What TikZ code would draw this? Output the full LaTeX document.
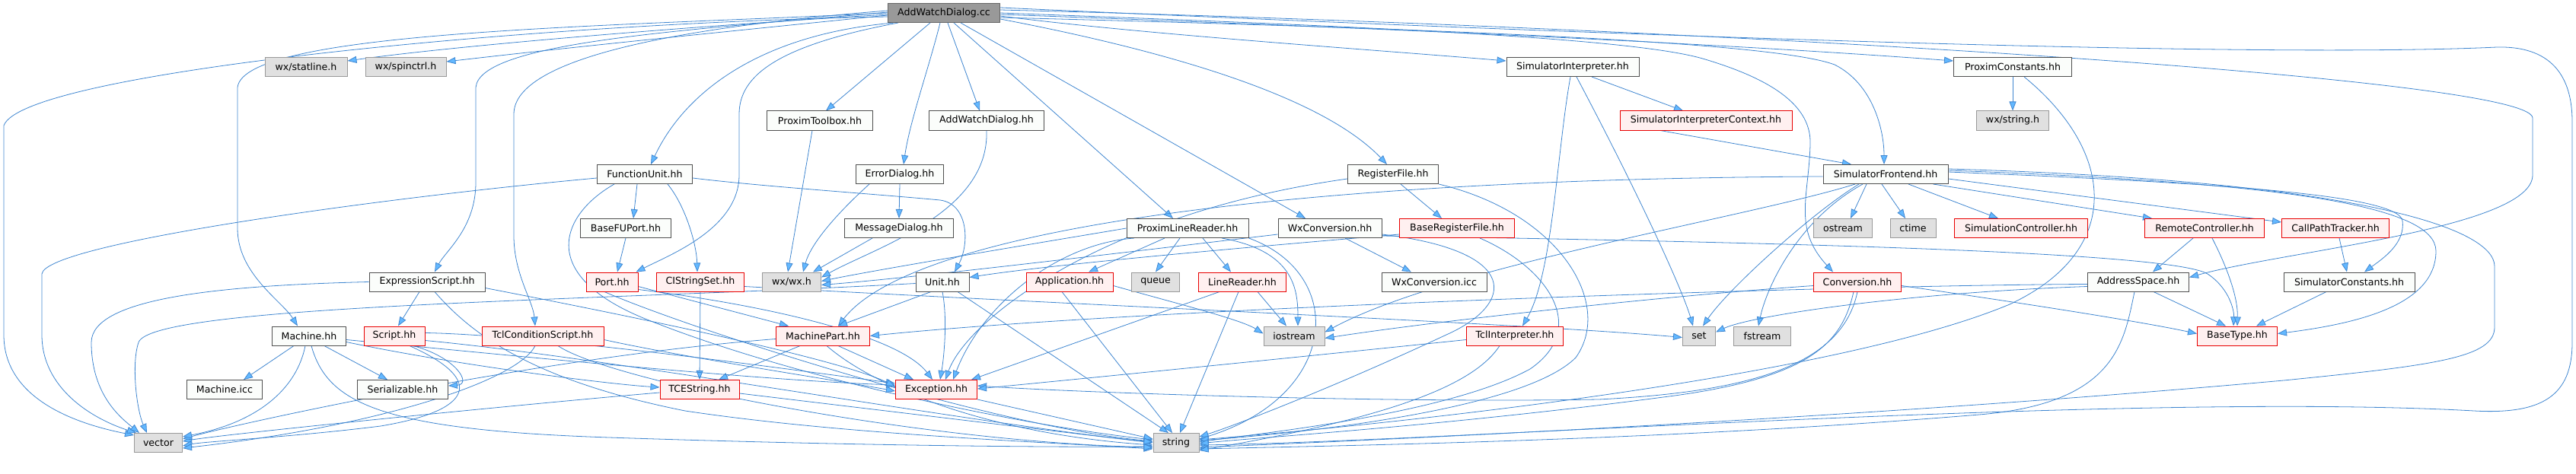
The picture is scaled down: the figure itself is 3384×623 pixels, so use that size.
\documentclass[tikz,border=0pt]{standalone}
\usepackage{fontspec}
\newfontfamily\dvs{DejaVu Sans}
\usetikzlibrary{arrows.meta}
\definecolor{edgec}{HTML}{3F86D0}
\definecolor{tipc}{HTML}{63B8FF}
\definecolor{nbord}{HTML}{505050}
\definecolor{nfill}{HTML}{FBFDFB}
\definecolor{gfill}{HTML}{E0E0E0}
\definecolor{gbord}{HTML}{999999}
\definecolor{rbord}{HTML}{E80000}
\definecolor{rfill}{HTML}{FFF0F0}
\definecolor{rootfill}{HTML}{999999}
\definecolor{rootbord}{HTML}{666666}
\pgfdeclarelayer{bg}
\pgfsetlayers{bg,main}
\tikzset{
  box/.style={rectangle, minimum height=25pt, inner sep=0pt, line width=1pt,
    font=\dvs\fontsize{12.6pt}{15pt}\selectfont},
  nb/.style={box, draw=nbord, fill=nfill},
  nr/.style={box, draw=rbord, fill=rfill},
  ng/.style={box, draw=gbord, fill=gfill},
  nroot/.style={box, draw=rootbord, fill=rootfill},
  lnk/.style={draw=edgec, line width=0.8pt, -{Triangle[length=12pt,width=9pt,fill=tipc]}}
}
\begin{document}
\begin{tikzpicture}[x=1pt,y=-1pt]
\useasboundingbox (0,0) rectangle (3384,623);
% row 1
\node[nroot, minimum width=147pt] (root) at (1240,17) {AddWatchDialog.cc};
% row 2
\node[ng, minimum width=108pt] (statline) at (402,88) {wx/statline.h};
\node[ng, minimum width=106pt] (spinctrl) at (533,88) {wx/spinctrl.h};
\node[nb, minimum width=174pt] (siminterp) at (2066,88) {SimulatorInterpreter.hh};
\node[nb, minimum width=155pt] (proxconst) at (2644,88) {ProximConstants.hh};
% row 3
\node[nb, minimum width=139pt] (toolbox) at (1077,158.5) {ProximToolbox.hh};
\node[nb, minimum width=151pt] (awdhh) at (1296,158.5) {AddWatchDialog.hh};
\node[nr, minimum width=226pt] (sicontext) at (2241,158.5) {SimulatorInterpreterContext.hh};
\node[ng, minimum width=95pt] (wxstring) at (2644,158.5) {wx/string.h};
% row 4
\node[nb, minimum width=125pt] (fu) at (847,229) {FunctionUnit.hh};
\node[nb, minimum width=115pt] (errdlg) at (1182,229) {ErrorDialog.hh};
\node[nb, minimum width=119pt] (regfile) at (1830,229) {RegisterFile.hh};
\node[nb, minimum width=164pt] (simfront) at (2477,229) {SimulatorFrontend.hh};
% row 5
\node[nb, minimum width=119pt] (basefuport) at (822,300) {BaseFUPort.hh};
\node[nb, minimum width=143pt] (msgdlg) at (1181,300) {MessageDialog.hh};
\node[nb, minimum width=160pt] (plr) at (1560,300) {ProximLineReader.hh};
\node[nb, minimum width=136pt] (wxconv) at (1747,300) {WxConversion.hh};
\node[nr, minimum width=151pt] (baseregfile) at (1914,300) {BaseRegisterFile.hh};
\node[ng, minimum width=77pt] (ostream) at (2421,300) {ostream};
\node[ng, minimum width=60pt] (ctime) at (2513,300) {ctime};
\node[nr, minimum width=175pt] (simctrl) at (2655,300) {SimulationController.hh};
\node[nr, minimum width=157pt] (remctrl) at (2896,300) {RemoteController.hh};
\node[nr, minimum width=141pt] (callpath) at (3068,300) {CallPathTracker.hh};
% row 6
\node[nb, minimum width=152pt] (exprscript) at (561,370.5) {ExpressionScript.hh};
\node[nr, minimum width=68pt] (port) at (804,370.5) {Port.hh};
\node[nr, minimum width=115pt] (cistring) at (920,370.5) {CIStringSet.hh};
\node[ng, minimum width=77pt] (wxwx) at (1040,370.5) {wx/wx.h};
\node[nb, minimum width=70pt] (unit) at (1238,370.5) {Unit.hh};
\node[nr, minimum width=114pt] (app) at (1405,370.5) {Application.hh};
\node[ng, minimum width=63pt] (queue) at (1518,370.5) {queue};
\node[nr, minimum width=115pt] (linereader) at (1632,370.5) {LineReader.hh};
\node[nb, minimum width=138pt] (wxconvicc) at (1884,370.5) {WxConversion.icc};
\node[nr, minimum width=115pt] (conversion) at (2440,370.5) {Conversion.hh};
\node[nb, minimum width=133pt] (addrspace) at (2809,370.5) {AddressSpace.hh};
\node[nb, minimum width=172pt] (simconst) at (3086,370.5) {SimulatorConstants.hh};
% row 7
\node[nb, minimum width=97pt] (machine) at (406,441.5) {Machine.hh};
\node[nr, minimum width=80pt] (script) at (518,441.5) {Script.hh};
\node[nr, minimum width=160pt] (tclcond) at (713,441.5) {TclConditionScript.hh};
\node[nr, minimum width=123pt] (machinepart) at (1081,441.5) {MachinePart.hh};
\node[ng, minimum width=80pt] (iostream) at (1700,441.5) {iostream};
\node[nr, minimum width=127pt] (tclinterp) at (1990,441.5) {TclInterpreter.hh};
\node[ng, minimum width=43pt] (set) at (2232,441.5) {set};
\node[ng, minimum width=75pt] (fstream) at (2315,441.5) {fstream};
\node[nr, minimum width=105pt] (basetype) at (2939,441.5) {BaseType.hh};
% row 8
\node[nb, minimum width=99pt] (machineicc) at (295,512) {Machine.icc};
\node[nb, minimum width=119pt] (serial) at (529,512) {Serializable.hh};
\node[nr, minimum width=104pt] (tcestring) at (919,512) {TCEString.hh};
\node[nr, minimum width=107pt] (exception) at (1230,512) {Exception.hh};
% row 9
\node[ng, minimum width=63pt] (vector) at (208,582) {vector};
\node[ng, minimum width=60pt] (string) at (1545,582) {string};

\begin{pgfonlayer}{bg}
% ---- root edges
\draw[lnk] ([yshift=-5pt]root.west) .. controls (700,30) and (30,95) .. (5,165) -- (5,440) .. controls (5,520) and (90,555) .. ([yshift=-3pt]vector.north west);
\draw[lnk] ([yshift=-2pt]root.west) .. controls (900,35) and (600,60) .. ([yshift=8pt]statline.east);
\draw[lnk] ([yshift=-3pt]root.west) .. controls (950,42) and (750,62) .. ([yshift=7pt]spinctrl.east);
\draw[lnk] ([yshift=0pt]root.west) .. controls (800,35) and (320,40) .. (312,115) -- (312,300) .. controls (312,360) and (370,395) .. ([xshift=-15pt]machine.north);
\draw[lnk] ([yshift=1pt]root.west) .. controls (900,40) and (630,55) .. (625,115) -- (625,240) .. controls (625,300) and (585,330) .. ([xshift=10pt]exprscript.north);
\draw[lnk] ([yshift=3pt]root.west) .. controls (900,35) and (675,75) .. (675,150) -- (675,310) .. controls (675,360) and (700,395) .. ([xshift=-10pt]tclcond.north);
\draw[lnk] ([xshift=8pt]root.south west) .. controls (1000,45) and (900,120) .. ([xshift=8pt]fu.north);
\draw[lnk] ([xshift=14pt]root.south west) .. controls (1020,60) and (971,100) .. (971,150) -- (971,230) .. controls (971,300) and (880,335) .. ([xshift=-3pt]port.north east);
\draw[lnk] ([xshift=-18pt]root.south) -- ([xshift=8pt]toolbox.north);
\draw[lnk] ([xshift=-5pt]root.south) .. controls (1220,90) and (1195,160) .. ([xshift=5pt]errdlg.north);
\draw[lnk] ([xshift=5pt]root.south) -- ([xshift=-9pt]awdhh.north);
\draw[lnk] ([xshift=13pt]root.south) -- ([xshift=-19pt]plr.north);
\draw[lnk] ([xshift=22pt]root.south) -- ([xshift=-32pt]wxconv.north);
\draw[lnk] ([yshift=-8pt]root.east) .. controls (1550,70) and (1740,130) .. ([xshift=-8pt]regfile.north);
\draw[lnk] ([yshift=-4pt]root.east) .. controls (1500,45) and (1800,65) .. ([yshift=8pt]siminterp.west);
\draw[lnk] ([yshift=-2pt]root.east) .. controls (1900,40) and (2300,60) .. ([yshift=8pt]proxconst.west);
\draw[lnk] ([yshift=-6pt]root.east) .. controls (1900,38) and (2330,55) .. (2410,85) .. controls (2460,110) and (2475,170) .. ([xshift=-2pt]simfront.north);
\draw[lnk] ([yshift=0pt]root.east) .. controls (1800,35) and (2150,50) .. (2240,78) .. controls (2330,105) and (2380,140) .. (2378,190) .. controls (2376,260) and (2355,300) .. ([xshift=-32pt]conversion.north);
\draw[lnk] ([yshift=4pt]root.east) .. controls (2200,35) and (3325,100) .. (3327,155) -- (3327,230) .. controls (3327,300) and (3000,330) .. ([yshift=6pt]addrspace.east);
\draw[lnk] ([yshift=7pt]root.east) .. controls (2300,55) and (3000,75) .. (3280,62) .. controls (3360,60) and (3379,110) .. (3379,160) -- (3379,450) .. controls (3379,520) and (3340,545) .. (3250,540) .. controls (2800,515) and (1900,580) .. ([yshift=-3pt]string.east);
% ---- dialogs / wx
\draw[lnk] ([xshift=-10pt]toolbox.south) -- ([xshift=-5pt]wxwx.north);
\draw[lnk] (awdhh.south) .. controls (1300,280) and (1150,325) .. ([yshift=6pt]wxwx.east);
\draw[lnk] ([xshift=-40pt]errdlg.south) .. controls (1100,280) and (1065,320) .. ([xshift=15pt]wxwx.north);
\draw[lnk] (errdlg.south) -- (msgdlg.north);
\draw[lnk] ([xshift=-35pt]msgdlg.south) -- ([xshift=28pt]wxwx.north);
\draw[lnk] (plr.west) .. controls (1300,330) and (1150,355) .. ([yshift=1pt]wxwx.east);
\draw[lnk] ([yshift=-8pt]wxconv.west) .. controls (1450,335) and (1200,365) .. ([yshift=-4pt]wxwx.east);
% ---- ProximLineReader
\draw[lnk] ([xshift=-10pt]plr.south) -- (queue.north);
\draw[lnk] ([xshift=-30pt]plr.south) -- ([xshift=25pt]app.north);
\draw[lnk] ([xshift=20pt]plr.south) -- ([xshift=-15pt]linereader.north);
\draw[lnk] ([xshift=45pt]plr.south) .. controls (1700,330) and (1705,380) .. ([xshift=5pt]iostream.north);
\draw[lnk] (plr.south east) .. controls (1770,360) and (1760,520) .. ([yshift=5pt]string.east);
\draw[lnk] ([xshift=-70pt]plr.south) .. controls (1390,320) and (1290,400) .. ([xshift=22pt]exception.north);
% ---- WxConversion
\draw[lnk] ([xshift=20pt]wxconv.south) -- ([xshift=-30pt]wxconvicc.north);
\draw[lnk] ([yshift=-8pt]wxconv.east) .. controls (2000,330) and (1990,400) .. (1900,440) .. controls (1750,510) and (1620,560) .. ([yshift=8pt]string.east);
\draw[lnk] ([yshift=-10pt]wxconv.east) .. controls (2300,318) and (2850,330) .. (2900,360) .. controls (2930,380) and (2935,410) .. ([xshift=-5pt]basetype.north);
% ---- RegisterFile
\draw[lnk] ([xshift=10pt]regfile.south) -- ([xshift=-20pt]baseregfile.north);
\draw[lnk] (regfile.south east) .. controls (2050,280) and (2120,400) .. (2070,470) .. controls (2000,540) and (1700,570) .. ([yshift=3pt]string.east);
\draw[lnk] ([yshift=-6pt]regfile.west) .. controls (1450,280) and (1270,420) .. ([xshift=12pt]exception.north);
\draw[lnk] ([yshift=-8pt]baseregfile.west) .. controls (1700,320) and (1400,345) .. ([yshift=6pt]unit.east);
\draw[lnk] ([xshift=30pt]baseregfile.south) .. controls (2030,350) and (2090,430) .. (2010,485) .. controls (1900,545) and (1650,570) .. ([yshift=1pt]string.east);
% ---- SimulatorInterpreter
\draw[lnk] ([xshift=25pt]siminterp.south) -- ([xshift=-30pt]sicontext.north);
\draw[lnk] ([xshift=5pt]siminterp.south) .. controls (2150,250) and (2210,380) .. ([xshift=-8pt]set.north);
\draw[lnk] ([xshift=-3pt]siminterp.south) .. controls (2045,200) and (2040,360) .. ([xshift=10pt]tclinterp.north);
\draw[lnk] ([xshift=-60pt]sicontext.south) -- ([xshift=-45pt]simfront.north);
% ---- ProximConstants
\draw[lnk] (proxconst.south) -- (wxstring.north);
\draw[lnk] ([xshift=15pt]proxconst.south) .. controls (2780,200) and (2790,330) .. (2640,400) .. controls (2400,500) and (1800,560) .. ([yshift=4pt]string.east);
% ---- SimulatorFrontend
\draw[lnk] ([xshift=-25pt]simfront.south) -- ([xshift=10pt]ostream.north);
\draw[lnk] ([xshift=-5pt]simfront.south) -- ([xshift=-10pt]ctime.north);
\draw[lnk] ([xshift=30pt]simfront.south) -- ([xshift=-30pt]simctrl.north);
\draw[lnk] ([xshift=-20pt]simfront.south east) -- ([xshift=10pt]remctrl.north west);
\draw[lnk] ([yshift=-6pt]simfront.east) -- ([yshift=8pt]callpath.west);
\draw[lnk] ([yshift=3pt]simfront.east) .. controls (2900,240) and (3150,255) .. (3156,290) .. controls (3160,320) and (3130,340) .. ([xshift=20pt]simconst.north);
\draw[lnk] ([yshift=5pt]simfront.east) .. controls (3000,240) and (3200,270) .. (3200,330) .. controls (3200,400) and (3100,425) .. ([yshift=3pt]basetype.east);
\draw[lnk] ([yshift=7pt]simfront.east) .. controls (3100,238) and (3277,300) .. (3277,350) -- (3277,430) .. controls (3277,470) and (3200,480) .. (3000,500) .. controls (2500,545) and (1900,575) .. ([yshift=-6pt]string.east);
\draw[lnk] ([xshift=-35pt]simfront.south) .. controls (2380,280) and (2270,380) .. ([xshift=5pt]set.north);
\draw[lnk] ([xshift=-30pt]simfront.south) .. controls (2360,290) and (2320,380) .. ([xshift=-5pt]fstream.north);
\draw[lnk] ([xshift=-40pt]simfront.south) .. controls (2300,285) and (1900,350) .. ([yshift=5pt]iostream.east);
\draw[lnk] ([yshift=-3pt]simfront.west) .. controls (1700,235) and (1200,300) .. ([xshift=20pt]machinepart.north);
% ---- right cluster
\draw[lnk] ([xshift=-15pt]remctrl.south) -- ([xshift=19pt]addrspace.north);
\draw[lnk] ([xshift=10pt]remctrl.south) .. controls (2925,350) and (2940,390) .. (basetype.north);
\draw[lnk] ([xshift=5pt]callpath.south) -- ([xshift=-3pt]simconst.north);
\draw[lnk] ([xshift=-30pt]simconst.south) -- ([xshift=25pt]basetype.north);
\draw[lnk] ([xshift=20pt]addrspace.south) -- ([xshift=-15pt]basetype.north);
\draw[lnk] ([xshift=-5pt]addrspace.south) .. controls (2790,450) and (2780,530) .. (2600,545) .. controls (2200,578) and (1800,585) .. ([yshift=-8pt]string.east);
\draw[lnk] ([yshift=-3pt]addrspace.west) .. controls (2400,375) and (1500,405) .. (machinepart.east);
\draw[lnk] ([yshift=-6pt]addrspace.west) .. controls (2500,385) and (2300,415) .. ([yshift=5pt]set.east);
% ---- Conversion
\draw[lnk] ([xshift=-5pt]conversion.south) .. controls (2420,450) and (2380,495) .. (2200,520) .. controls (1900,560) and (1650,575) .. ([yshift=-1pt]string.east);
\draw[lnk] (conversion.south) .. controls (2420,480) and (2300,515) .. (2100,525) .. controls (1800,530) and (1400,515) .. ([yshift=5pt]exception.east);
\draw[lnk] ([yshift=-5pt]conversion.west) .. controls (2200,388) and (1900,420) .. ([yshift=-3pt]iostream.east);
\draw[lnk] ([yshift=-5pt]conversion.east) .. controls (2600,390) and (2800,420) .. ([yshift=3pt]basetype.west);
% ---- TclInterpreter
\draw[lnk] ([xshift=-20pt]tclinterp.south) .. controls (1940,500) and (1850,545) .. ([yshift=-10pt]string.east);
\draw[lnk] ([yshift=-5pt]tclinterp.west) .. controls (1700,470) and (1400,500) .. ([yshift=1pt]exception.east);
% ---- machine parts
\draw[lnk] (cistring.south) -- (tcestring.north);
\draw[lnk] ([yshift=-6pt]cistring.east) .. controls (1400,400) and (2000,425) .. ([yshift=-2pt]set.west);
\draw[lnk] ([xshift=-10pt]fu.south) -- ([xshift=10pt]basefuport.north);
\draw[lnk] ([xshift=30pt]fu.south) .. controls (900,270) and (915,320) .. ([xshift=-4pt]cistring.north);
\draw[lnk] ([yshift=-5pt]fu.east) .. controls (1000,245) and (1150,255) .. (1235,263) .. controls (1272,268) and (1274,320) .. ([xshift=16pt]unit.north);
\draw[lnk] ([yshift=-5pt]fu.west) .. controls (500,260) and (60,320) .. (55,360) -- (55,440) .. controls (55,510) and (120,550) .. ([xshift=3pt]vector.north west);
\draw[lnk] ([xshift=-40pt]fu.south) .. controls (740,280) and (700,360) .. (850,420) .. controls (1050,500) and (1350,560) .. ([yshift=4pt]string.west);
\draw[lnk] (basefuport.south) -- ([xshift=7pt]port.north);
\draw[lnk] ([yshift=-6pt]port.east) -- ([xshift=-45pt]machinepart.north);
\draw[lnk] ([xshift=-10pt]port.south) .. controls (900,430) and (1300,560) .. ([yshift=2pt]string.west);
\draw[lnk] ([yshift=-10pt]port.east) .. controls (1000,400) and (1180,440) .. ([xshift=-5pt]exception.north);
\draw[lnk] ([xshift=-15pt]unit.south) -- ([xshift=20pt]machinepart.north);
\draw[lnk] (unit.south) .. controls (1245,420) and (1240,470) .. ([xshift=5pt]exception.north);
\draw[lnk] ([xshift=20pt]unit.south) -- ([xshift=-10pt]string.north);
\draw[lnk] ([yshift=-2pt]unit.west) .. controls (800,395) and (200,400) .. (182,450) .. controls (172,480) and (180,540) .. ([xshift=-15pt]vector.north);
\draw[lnk] ([yshift=-5pt]app.east) .. controls (1550,400) and (1630,420) .. ([yshift=3pt]iostream.west);
\draw[lnk] ([xshift=-10pt]app.south) -- ([xshift=-5pt]string.north);
\draw[lnk] ([xshift=-5pt]linereader.south) -- ([xshift=5pt]string.north);
\draw[lnk] ([xshift=20pt]linereader.south) -- ([xshift=-10pt]iostream.north);
\draw[lnk] ([xshift=-30pt]linereader.south) -- ([xshift=-8pt]exception.north east);
\draw[lnk] (exception.south east) -- ([yshift=5pt]string.west);
\draw[lnk] ([yshift=-5pt]tcestring.east) -- ([yshift=0pt]string.west);
\draw[lnk] ([yshift=-4pt]tcestring.west) .. controls (700,530) and (300,570) .. ([yshift=2pt]vector.east);
\draw[lnk] ([xshift=-30pt]machinepart.south) -- ([xshift=25pt]tcestring.north);
\draw[lnk] ([xshift=20pt]machinepart.south) -- ([xshift=-30pt]exception.north);
\draw[lnk] ([xshift=5pt]machinepart.south) .. controls (1150,510) and (1300,570) .. ([yshift=-3pt]string.west);
\draw[lnk] ([yshift=-4pt]machinepart.west) .. controls (700,470) and (300,560) .. ([yshift=5pt]vector.east);
\draw[lnk] ([xshift=-20pt]machine.south) -- ([xshift=25pt]machineicc.north);
\draw[lnk] ([xshift=20pt]machine.south) -- ([xshift=-20pt]serial.north);
\draw[lnk] ([xshift=-5pt]machine.south) .. controls (390,510) and (340,555) .. ([yshift=8pt]vector.east);
\draw[lnk] ([xshift=3pt]machine.south) .. controls (430,530) and (500,565) .. (800,575) .. controls (1100,585) and (1350,588) .. ([yshift=-5pt]string.west);
\draw[lnk] ([yshift=-5pt]machine.east) .. controls (700,470) and (1000,500) .. ([yshift=6pt]exception.west);
\draw[lnk] ([yshift=-8pt]machine.east) .. controls (600,480) and (800,505) .. ([yshift=3pt]tcestring.west);
\draw[lnk] ([xshift=25pt]script.south) .. controls (600,470) and (620,505) .. ([yshift=5pt]serial.east);
\draw[lnk] ([xshift=20pt]script.south) .. controls (640,500) and (620,540) .. (500,560) .. controls (380,575) and (270,580) .. ([yshift=-4pt]vector.east);
\draw[lnk] ([yshift=-6pt]script.east) .. controls (800,470) and (1300,560) .. ([yshift=1pt]string.west);
\draw[lnk] ([yshift=4pt]script.east) .. controls (700,440) and (1000,480) .. ([yshift=8pt]exception.west);
\draw[lnk] ([xshift=-10pt]exprscript.south) -- ([xshift=5pt]script.north);
\draw[lnk] (exprscript.west) .. controls (300,375) and (120,390) .. (120,450) .. controls (120,520) and (160,550) .. ([xshift=-25pt]vector.north);
\draw[lnk] ([xshift=10pt]exprscript.south) .. controls (620,440) and (700,500) .. (900,540) .. controls (1100,570) and (1350,580) .. ([yshift=-8pt]string.west);
\draw[lnk] ([yshift=-8pt]exprscript.east) .. controls (800,410) and (1100,470) .. ([yshift=4pt]exception.west);
\draw[lnk] ([xshift=-10pt]tclcond.south) .. controls (680,500) and (500,560) .. ([yshift=-7pt]vector.east);
\draw[lnk] ([xshift=20pt]tclcond.south) .. controls (800,500) and (1200,580) .. ([yshift=-6pt]string.west);
\draw[lnk] ([yshift=-5pt]tclcond.east) .. controls (900,470) and (1100,500) .. ([yshift=-2pt]exception.west);
\end{pgfonlayer}
\end{tikzpicture}
\end{document}
